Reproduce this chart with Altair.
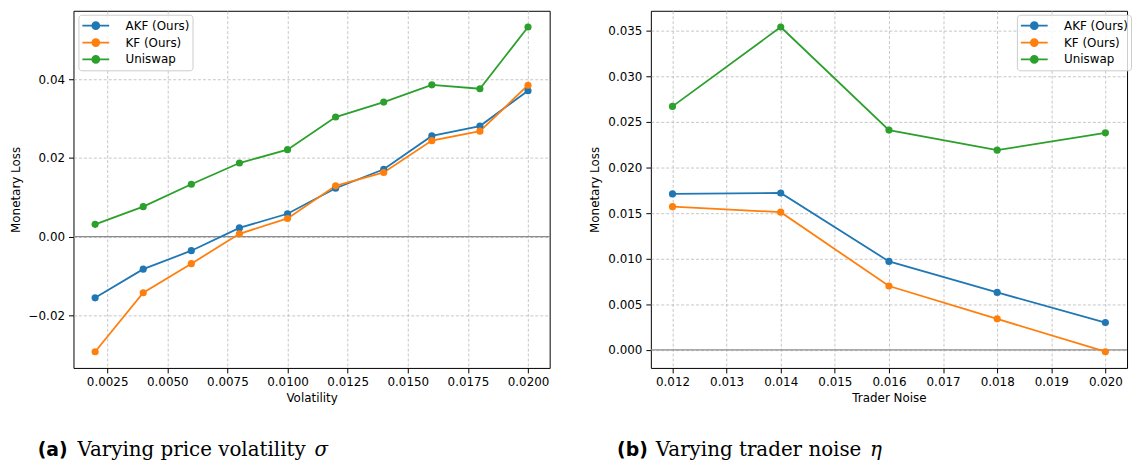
import altair as alt
import pandas as pd

series = ["AKF (Ours)", "KF (Ours)", "Uniswap"]
colors = ["#1f77b4", "#ff7f0e", "#2ca02c"]

vol_x = [0.002, 0.004, 0.006, 0.008, 0.010, 0.012, 0.014, 0.016, 0.018, 0.020]
vol_akf = [-0.0156, -0.0083, -0.0036, 0.0022, 0.0058, 0.0123, 0.0171, 0.0256, 0.0281, 0.0371]
vol_kf = [-0.0293, -0.0143, -0.0069, 0.0007, 0.0046, 0.0129, 0.0163, 0.0244, 0.0268, 0.0385]
vol_uni = [0.0031, 0.0076, 0.0133, 0.0187, 0.0221, 0.0304, 0.0342, 0.0386, 0.0376, 0.0533]

noise_x = [0.012, 0.014, 0.016, 0.018, 0.020]
noise_akf = [0.0171, 0.0172, 0.0097, 0.0063, 0.0030]
noise_kf = [0.0157, 0.0151, 0.0070, 0.0034, -0.0002]
noise_uni = [0.0267, 0.0354, 0.0241, 0.0219, 0.0238]

vol_xticks = [0.0025, 0.0050, 0.0075, 0.0100, 0.0125, 0.0150, 0.0175, 0.0200]
vol_yticks = [-0.02, 0.0, 0.02, 0.04]
noise_xticks = [0.012, 0.013, 0.014, 0.015, 0.016, 0.017, 0.018, 0.019, 0.020]
noise_yticks = [0.0, 0.005, 0.010, 0.015, 0.020, 0.025, 0.030, 0.035]

x_titles = ["Volatility", "Trader Noise"]
y_title = "Monetary Loss"
caption_a = ["(a)", "Varying price volatility", "σ"]
caption_b = ["(b)", "Varying trader noise", "η"]

W, H = 480, 360
SANS = "DejaVu Sans"
SERIF = "DejaVu Serif"


def ring(r):
    return "M{a},0A{r},{r},0,1,0,{b},0A{r},{r},0,1,0,{a},0".format(a=-r, b=r, r=r)


# line segment plus a disc built from concentric rings (all stroked)
LEG_PATH = "M-1.93,0L1.93,0" + "".join(ring(r) for r in [0.5, 0.37, 0.24, 0.11])


def long_df(x, ys):
    rows = []
    for name, vals in zip(series, ys):
        for xv, yv in zip(x, vals):
            rows.append({"x": xv, "y": yv, "series": name})
    return pd.DataFrame(rows)


def pad_domain(vals):
    lo, hi = min(vals), max(vals)
    m = (hi - lo) * 0.05
    return [lo - m, hi + m]


def panel(x, ys, xticks, xfmt, yticks, yfmt, xtitle, caption, legx, cap_pos):
    df = long_df(x, ys)
    allys = [v for s in ys for v in s]
    xs = alt.Scale(domain=pad_domain(x), nice=False, zero=False)
    ys_ = alt.Scale(domain=pad_domain(allys), nice=False, zero=False)
    xenc = alt.X("x:Q", scale=xs, axis=alt.Axis(values=xticks, format=xfmt, title=xtitle))
    yenc = alt.Y("y:Q", scale=ys_, axis=alt.Axis(values=yticks, format=yfmt, title=y_title))
    cscale = alt.Scale(domain=series, range=colors)
    base = alt.Chart(df)
    zero = alt.Chart(pd.DataFrame({"z": [0.0]})).mark_rule(
        color="#8c8c8c", strokeWidth=1.2).encode(y=alt.Y("z:Q", scale=ys_))
    lines = base.mark_line(strokeWidth=1.8).encode(
        x=xenc, y=yenc,
        color=alt.Color("series:N", scale=cscale, legend=alt.Legend(
            title=None, orient="none", legendX=legx, legendY=4, direction="vertical",
            symbolType=LEG_PATH, symbolSize=196, symbolOffset=6.5, symbolStrokeWidth=1.8,
            symbolFillColor="transparent",
            labelFontSize=12, labelFont=SANS, labelColor="black", labelOffset=22,
            rowPadding=1, padding=3, cornerRadius=3,
            strokeColor="#cccccc", fillColor="rgba(255,255,255,0.8)")),
    )
    pts = base.mark_circle(size=52, opacity=1).encode(
        x=xenc, y=yenc,
        fill=alt.Fill("series:N", scale=cscale, legend=None),
    )
    capdf = pd.DataFrame({"t": caption})
    cap_layers = []
    styles = [(SANS, "bold", "normal", 19), (SERIF, "normal", "normal", 20), (SERIF, "normal", "italic", 20)]
    for i, (font, weight, style, size) in enumerate(styles):
        cap_layers.append(
            alt.Chart(capdf).transform_filter(alt.datum.t == caption[i]).mark_text(
                font=font, fontWeight=weight, fontStyle=style, fontSize=size,
                align="left", baseline="alphabetic", color="black",
            ).encode(x=alt.value(cap_pos[i]), y=alt.value(449), text="t:N")
        )
    return alt.layer(zero, lines, pts, *cap_layers).resolve_scale(
        color="independent", fill="independent").properties(width=W, height=H)


left = panel(vol_x, [vol_akf, vol_kf, vol_uni], vol_xticks, ".4f", vol_yticks, ".2f",
             x_titles[0], caption_a, 5, [-36, 4, 243])
right = panel(noise_x, [noise_akf, noise_kf, noise_uni], noise_xticks, ".3f", noise_yticks, ".3f",
              x_titles[1], caption_b, 369, [-34, 5, 221])

chart = alt.hconcat(left, right, spacing=37).resolve_scale(
    color="independent", fill="independent").resolve_legend(
    color="independent").properties(padding=0).configure_view(
    stroke="#000000", strokeWidth=1).configure_axis(
    labelFont=SANS, titleFont=SANS, labelFontSize=12, titleFontSize=12,
    labelColor="black", titleColor="black", titleFontWeight="normal",
    tickSize=5, tickColor="black", tickWidth=1, domain=False,
    gridColor="#b8b8b8", gridDash=[3, 2], gridWidth=0.8, labelPadding=4,
).configure_axisY(titlePadding=6).configure_axisX(titlePadding=5)

chart.save("out.html", embed_options={"renderer": "svg", "actions": False})
